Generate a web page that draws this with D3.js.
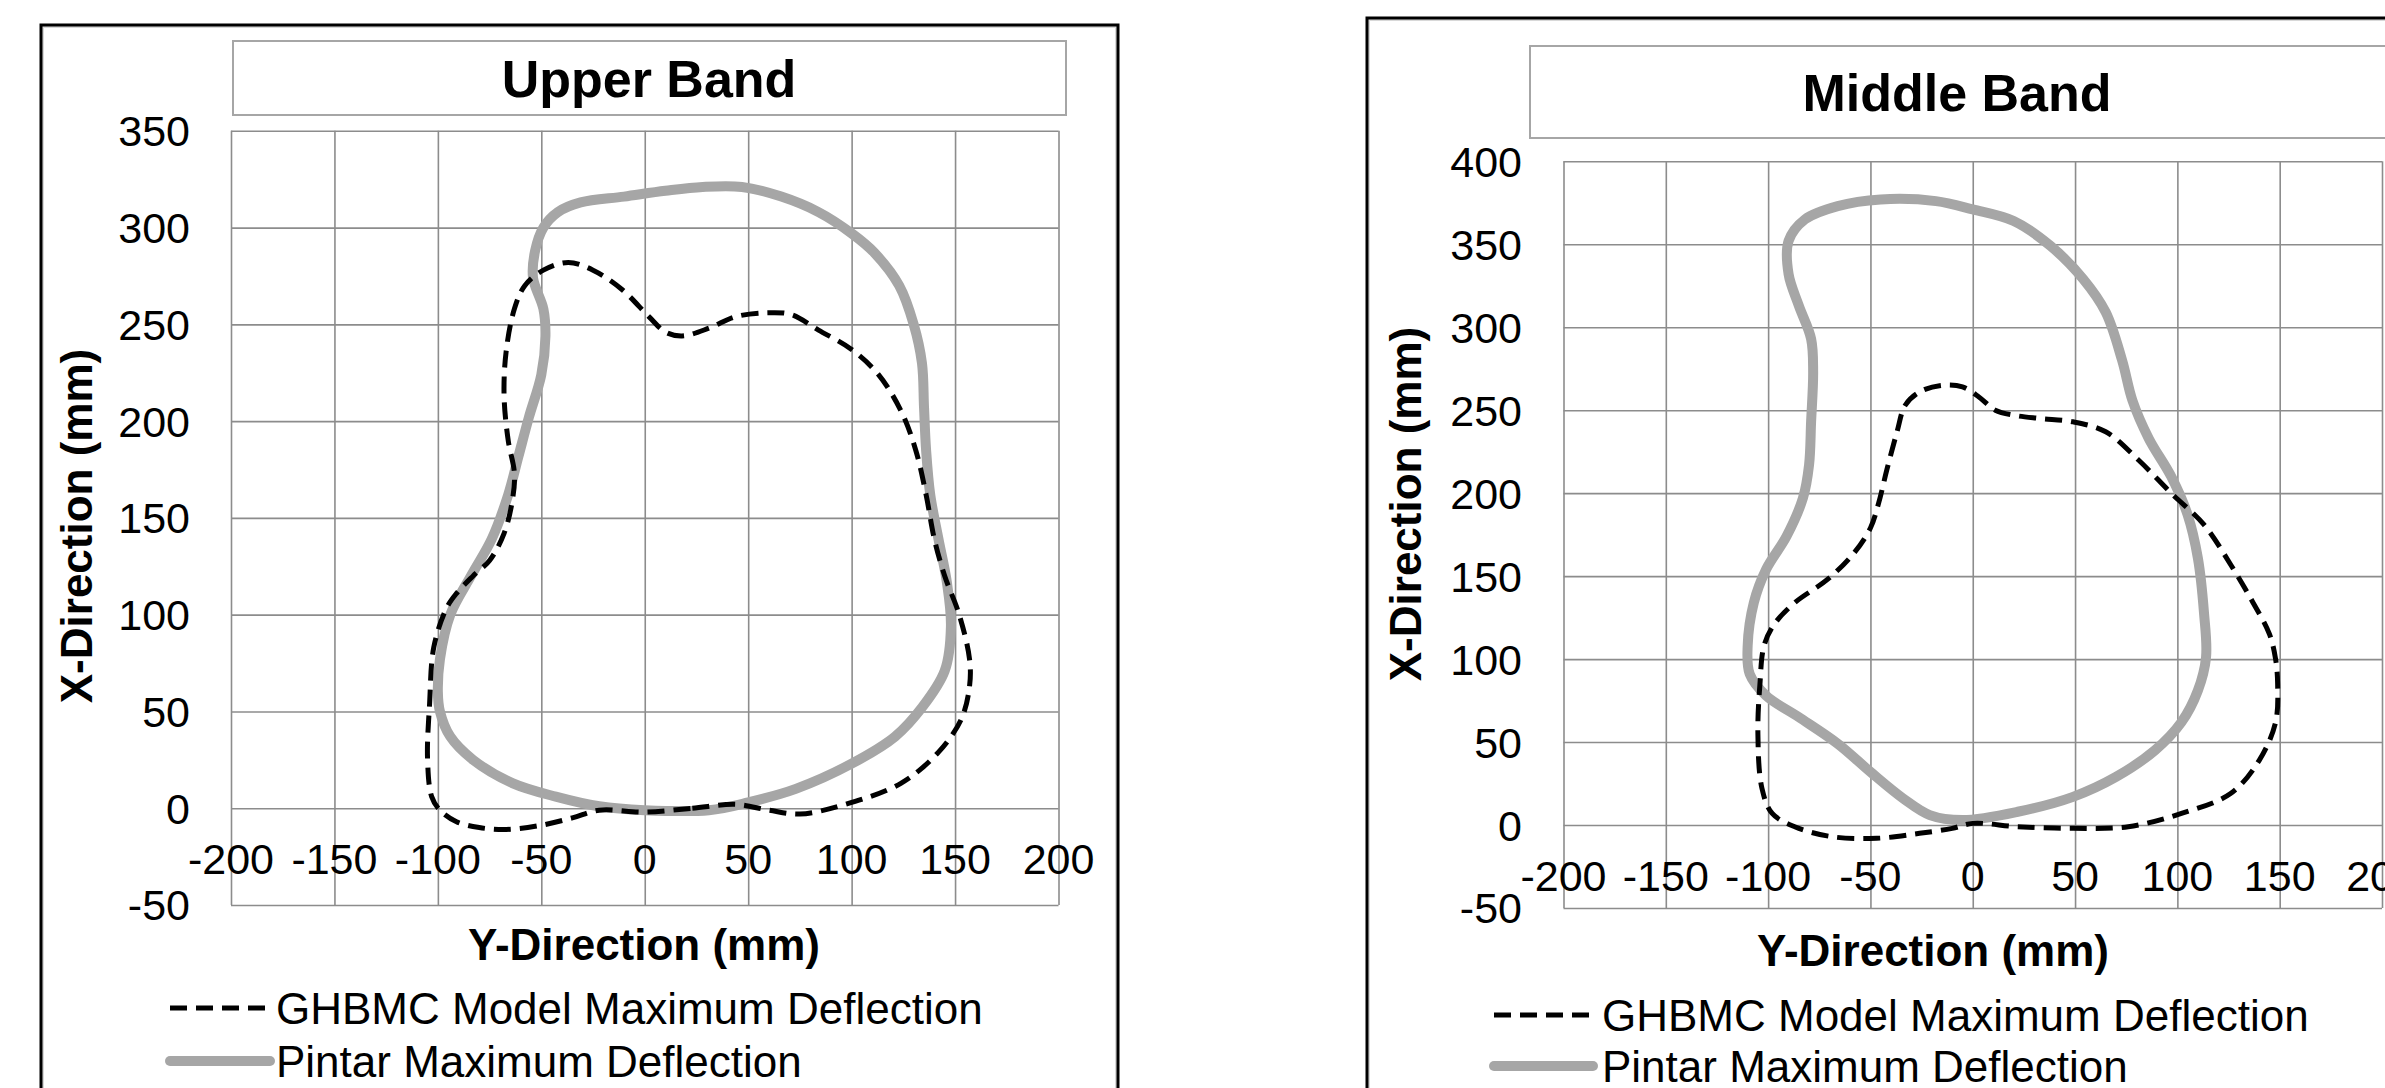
<!DOCTYPE html>
<html><head><meta charset="utf-8">
<script src="https://cdn.jsdelivr.net/npm/d3@7"></script>
<style>
html,body{margin:0;padding:0;background:#fff;}
svg{display:block;font-family:"Liberation Sans",Arial,sans-serif;}
</style></head>
<body>
<svg id="c" width="2385" height="1088"></svg>
<script>
// ---- DATA ----  points are [Y-Direction (mm), X-Direction (mm)]
const xTicks = [-200,-150,-100,-50,0,50,100,150,200];
const upperYTicks = [-50,0,50,100,150,200,250,300,350];
const middleYTicks = [-50,0,50,100,150,200,250,300,350,400];
const seriesNames = ["GHBMC Model Maximum Deflection","Pintar Maximum Deflection"];
const panelTitles = ["Upper Band","Middle Band"];

const upperGHBMC = [[0,-2],[23,0],[44,2],[60,-1],[75,-3],[97,2],[124,13],[142,29],[153,46],[157,63],[157,77],[152,100],[145,120],[140,139],[136,162],[131,185],[124,205],[113,224],[100,237],[84,247],[71,255],[60,256],[44,254],[31,248],[18,244],[10,246],[2,254],[-11,268],[-25,278],[-37,282],[-49,278],[-58,270],[-63,258],[-67,236],[-68,213],[-66,190],[-63,173],[-64,159],[-68,142],[-75,128],[-83,120],[-91,111],[-96,103],[-102,83],[-104,54],[-105,26],[-103,6],[-99,-1],[-91,-7],[-80,-10],[-67,-11],[-51,-9],[-35,-5],[-22,-1]];
const upperPintar = [[0,-1],[31,-1],[50,3],[73,10],[100,23],[121,37],[134,52],[145,71],[148,94],[146,117],[142,139],[138,162],[136,185],[135,207],[134,230],[130,250],[123,270],[111,287],[100,297],[84,308],[66,316],[47,321],[28,321],[10,319],[-10,316],[-31,313],[-42,308],[-49,300],[-53,288],[-54,274],[-49,258],[-48,244],[-50,224],[-56,202],[-61,182],[-66,162],[-74,139],[-84,120],[-94,100],[-99,77],[-100,60],[-99,50],[-94,37],[-83,25],[-64,13],[-43,6],[-22,1]];
const middleGHBMC = [[0,1],[22,-1],[49,-2],[76,-1],[102,7],[126,19],[140,39],[148,62],[149,85],[148,100],[145,115],[137,134],[126,157],[113,181],[97,200],[81,220],[65,237],[49,243],[33,245],[20,247],[11,250],[3,258],[-5,264],[-15,265],[-26,261],[-33,253],[-37,237],[-42,214],[-46,194],[-50,179],[-58,164],[-71,148],[-87,134],[-97,121],[-102,108],[-104,85],[-105,55],[-103,22],[-98,7],[-87,-1],[-69,-7],[-47,-8],[-26,-5],[-10,-2]];
const middlePintar = [[-5,3],[22,8],[49,17],[70,29],[89,45],[102,62],[110,81],[114,101],[113,128],[110,161],[105,187],[97,210],[86,233],[78,256],[73,280],[65,309],[54,329],[38,349],[20,364],[0,371],[-18,376],[-45,377],[-66,373],[-82,365],[-90,352],[-90,332],[-85,313],[-79,293],[-78,273],[-79,243],[-80,217],[-83,197],[-91,174],[-101,154],[-107,134],[-110,108],[-109,91],[-101,78],[-85,65],[-66,49],[-50,32],[-34,16],[-21,6]];

// ---- LAYOUT ----
const svg = d3.select("#c");
const panels = [
  {title:panelTitles[0], ghbmc:upperGHBMC, pintar:upperPintar, yTicks:upperYTicks, yDom:[-50,350],
   frame:{x:41,y:25,w:1077,h:1100}, tbox:{x:233,y:41,w:833,h:74}, titleX:649, titleY:97,
   px:[231,1058.5], py:[905,130.8], yLabX:190, xLabOff:50, yTitle:{x:76,y:526}, xTitle:{x:644,y:944},
   leg:{x0:170,x1:270,tx:276,y1:1008,y2:1061}},
  {title:panelTitles[1], ghbmc:middleGHBMC, pintar:middlePintar, yTicks:middleYTicks, yDom:[-50,400],
   frame:{x:1367,y:18,w:1100,h:1100}, tbox:{x:1530,y:46,w:900,h:92}, titleX:1957, titleY:111,
   px:[1563.5,2382], py:[908,161.3], yLabX:1522, xLabOff:50, yTitle:{x:1405,y:504}, xTitle:{x:1933,y:950},
   leg:{x0:1494,x1:1593,tx:1602,y1:1015,y2:1066}}
];

panels.forEach(p => {
  const g = svg.append("g");
  // outer frame
  g.append("rect").attr("x",p.frame.x+2).attr("y",p.frame.y+2).attr("width",p.frame.w-4).attr("height",p.frame.h-4)
    .attr("fill","none").attr("stroke","#d8d8d8").attr("stroke-width",2);
  g.append("rect").attr("x",p.frame.x).attr("y",p.frame.y).attr("width",p.frame.w).attr("height",p.frame.h)
    .attr("fill","none").attr("stroke","#000").attr("stroke-width",3);
  // title box
  g.append("rect").attr("x",p.tbox.x).attr("y",p.tbox.y).attr("width",p.tbox.w).attr("height",p.tbox.h)
    .attr("fill","#fff").attr("stroke","#a6a6a6").attr("stroke-width",2);
  g.append("text").attr("x",p.titleX).attr("y",p.titleY).attr("text-anchor","middle")
    .attr("font-size",52).attr("font-weight","bold").attr("fill","#000").text(p.title);

  const x = d3.scaleLinear().domain([-200,200]).range(p.px);
  const y = d3.scaleLinear().domain(p.yDom).range(p.py);

  // grid via axes
  const gx = g.append("g").attr("transform",`translate(0,${p.py[0]})`)
    .call(d3.axisBottom(x).tickValues(xTicks).tickSize(-(p.py[0]-p.py[1])).tickFormat(""));
  const gy = g.append("g").attr("transform",`translate(${p.px[0]},0)`)
    .call(d3.axisLeft(y).tickValues(p.yTicks).tickSize(-(p.px[1]-p.px[0])).tickFormat(""));
  [gx,gy].forEach(a => {
    a.select(".domain").remove();
    a.selectAll(".tick line").attr("stroke","#8c8c8c").attr("stroke-width",1.6);
  });

  // y tick labels
  g.append("g").selectAll("text").data(p.yTicks).join("text")
    .attr("x",p.yLabX).attr("y",d=>y(d)).attr("dy","0.36em").attr("text-anchor","end")
    .attr("font-size",43).attr("fill","#000").text(d=>d);
  // x tick labels (axis crosses at 0)
  g.append("g").selectAll("text").data(xTicks).join("text")
    .attr("x",d=>x(d)).attr("y",y(0)+p.xLabOff).attr("dy","0.36em").attr("text-anchor","middle")
    .attr("font-size",43).attr("fill","#000").text(d=>d);

  // axis titles
  g.append("text").attr("transform",`translate(${p.yTitle.x},${p.yTitle.y}) rotate(-90)`)
    .attr("text-anchor","middle").attr("dy","0.36em").attr("font-size",44).attr("font-weight","bold")
    .text("X-Direction (mm)");
  g.append("text").attr("x",p.xTitle.x).attr("y",p.xTitle.y).attr("dy","0.36em")
    .attr("text-anchor","middle").attr("font-size",44).attr("font-weight","bold").text("Y-Direction (mm)");

  const line = d3.line().x(d=>x(d[0])).y(d=>y(d[1])).curve(d3.curveCatmullRomClosed.alpha(0.5));
  g.append("path").attr("d",line(p.pintar)).attr("fill","none").attr("stroke","#a6a6a6")
    .attr("stroke-width",10).attr("stroke-linejoin","round");
  g.append("path").attr("d",line(p.ghbmc)).attr("fill","none").attr("stroke","#000")
    .attr("stroke-width",5).attr("stroke-dasharray","17,9");

  // legend
  g.append("line").attr("x1",p.leg.x0).attr("x2",p.leg.x1).attr("y1",p.leg.y1).attr("y2",p.leg.y1)
    .attr("stroke","#000").attr("stroke-width",5).attr("stroke-dasharray","17,9");
  g.append("text").attr("x",p.leg.tx).attr("y",p.leg.y1).attr("dy","0.36em").attr("font-size",44).text(seriesNames[0]);
  g.append("line").attr("x1",p.leg.x0).attr("x2",p.leg.x1).attr("y1",p.leg.y2).attr("y2",p.leg.y2)
    .attr("stroke","#a6a6a6").attr("stroke-width",10).attr("stroke-linecap","round");
  g.append("text").attr("x",p.leg.tx).attr("y",p.leg.y2).attr("dy","0.36em").attr("font-size",44).text(seriesNames[1]);
});
</script>
</body></html>
